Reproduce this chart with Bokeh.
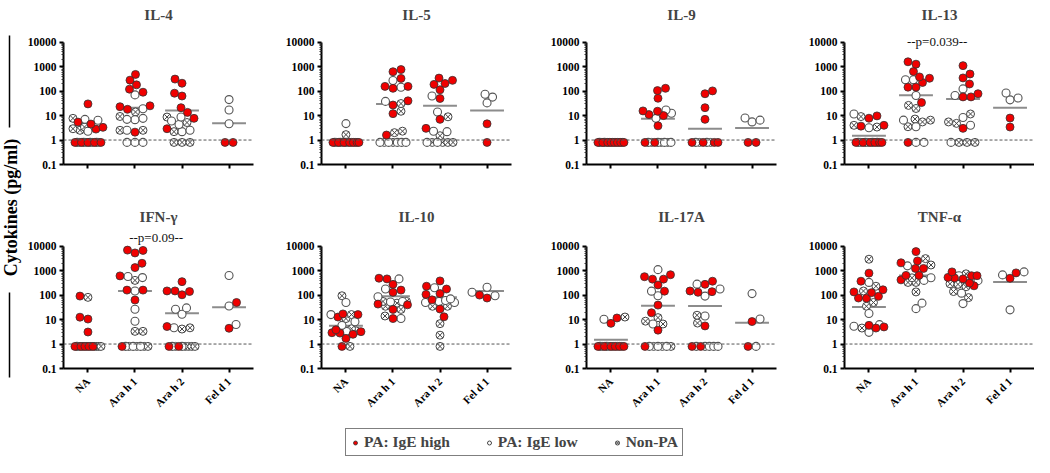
import math
import numpy as np
from bokeh.plotting import figure
from bokeh.layouts import row, column
from bokeh.models import FixedTicker, Span, Legend, LegendItem, Range1d
from bokeh.core.properties import value
from bokeh.embed import file_html
from bokeh.resources import INLINE

# ---------------- data (pg/ml); ND = below detection, plotted at 0.8 ----------------
ND = 0.8
GROUPS = ["NA", "Ara h 1", "Ara h 2", "Fel d 1"]
Y_TICKS = [0.1, 1, 10, 100, 1000, 10000]
Y_TICK_LABELS = ["0.1", "1", "10", "100", "1000", "10000"]
SERIES_NAMES = ["PA: IgE high", "PA: IgE low", "Non-PA"]

IL4_HIGH = [[30, 5.4, 4.5, 3.3, 2.8] + [ND] * 5, [480, 280, 180, 120, 90, 25, 23, 18, 2.1],
            [310, 210, 82, 63, 21, 13.5, 7.7, 2.9], [ND, ND]]
IL4_LOW = [[7, 6.4, 2.3] + [ND] * 4, [70, 19, 7.7, 7, 6.8, 2.5] + [ND] * 3, [8.7, 6, 4.3, 2.5, 2.2], [45, 17, 4.6]]
IL4_NONPA = [[7.7, 3.4, 2.9, 2.5] + [ND] * 4, [14, 9.2, 2.5, 2.5], [8.7, 5.2, 2.2] + [ND] * 3, []]
IL4_MED = [2.7, 21, 16, 4.8]

IL5_HIGH = [[ND] * 7, [760, 620, 330, 156, 156, 130, 40, 27, 12, 1.6], [340, 275, 205, 188, 113, 50, 7, 3.0], [4.6, ND]]
IL5_LOW = [[4.7] + [ND] * 3, [270, 143, 38] + [ND] * 5, [63, 14, 2.3, 2.2] + [ND] * 2, [74, 57, 33]]
IL5_NONPA = [[1.66] + [ND] * 5, [31, 15, 2.3, 2.0] + [ND] * 2, [8.9, 1.5] + [ND] * 4, []]
IL5_MED = [ND, 30, 25, 16]

IL9_HIGH = [[ND] * 8, [130, 105, 51, 15.5, 15, 11, 10, 3.8] + [ND] * 2, [102, 78, 21, 7] + [ND] * 4, [ND, ND]]
IL9_LOW = [[ND] * 2, [17, 12.5, 7.7] + [ND] * 4, [ND] * 2, [8, 6.5, 5.5]]
IL9_NONPA = [[ND] * 7, [ND] * 3, [ND] * 2, []]
IL9_MED = [ND, 7.5, 2.9, 3.1]

IL13_HIGH = [[9.7, 7.8, 4.0, 3.7] + [ND] * 6, [1580, 1260, 630, 380, 335, 225, 145, 145, 34, ND],
             [1100, 500, 345, 195, 78, 58, 58, 3.0], [7.9, 3.4]]
IL13_LOW = [[11.6, 3.2] + [ND] * 4, [290, 290, 66, 6.5, 3.5, ND, ND], [123, 66, 8.3, 4.0, ND], [84, 52, 44]]
IL13_NONPA = [[9.1, 4.0, 3.4] + [ND] * 2, [26, 19.5, 7.2, 6.5, 5.5, 3.5], [11.6, 5.5, 4.8] + [ND] * 3, []]
IL13_MED = [1.5, 67, 48, 21]

IFNG_HIGH = [[91, 12.5, 10.5, 3.1] + [ND] * 5, [6900, 6700, 5300, 2000, 1330, 610, 160, 160, 63, ND],
             [355, 148, 148, 140, 103, 5.2, ND, ND], [50, 4.4]]
IFNG_LOW = [[ND], [575, 520, 148, 26.5, 8.5] + [ND] * 3, [30, 26.5, 16.5, 4.6, ND, ND], [630, 36, 6.3]]
IFNG_NONPA = [[81] + [ND] * 8, [400, 3.3, 3.3] + [ND] * 4, [4.6, 4.1] + [ND] * 5, []]
IFNG_MED = [ND, 148, 18, 32]

IL10_HIGH = [[17, 16, 12.7, 3.8, 3.2, 2.9, 2.8, 2.5, 1.7, ND], [490, 460, 275, 160, 130, 43, 40, 26, 11],
             [380, 230, 177, 115, 107, 64, 27, 13], [100, 76]]
IL10_LOW = [[50, 16, 8.1, 5.8, 3.3], [460, 177, 86, 55, 52, 11], [200, 70, 60, 55, 50, 50], [210, 130, 94]]
IL10_NONPA = [[94, 16, 11, 4.2, 3.4, ND], [55, 55, 47, 35, 26, 14], [35, 35, 6.8, 2.3, ND], []]
IL10_MED = [5.6, 89, 81, 147]

IL17_HIGH = [[11.6, 7] + [ND] * 6, [680, 565, 450, 450, 260, 145, 39, 19, 3.7, ND],
             [370, 275, 147, 138, 130, 5.5, ND, ND], [8.3, ND]]
IL17_LOW = [[10.3, ND, ND], [1100, 145, 94, 6.6] + [ND] * 3, [280, 177, 91, 14] + [ND] * 5, [115, 10.5, ND]]
IL17_NONPA = [[12.7] + [ND] * 5, [12, 8.6, 6.6] + [ND] * 3, [15, 7.2], []]
IL17_MED = [1.5, 37, 36, 7.4]

TNF_HIGH = [[790, 370, 165, 135, 126, 89, 76, 74, 5.8, 5, 4.5], [6000, 2500, 2100, 1230, 1230, 640, 640, 420],
            [890, 620, 620, 530, 500, 460, 310, 240], [810, 490]]
TNF_LOW = [[330, 17.6, 6.2, 5.3, 3.0], [1570, 510, 400, 47, 28], [620, 390, 120, 45], [890, 670, 25]]
TNF_NONPA = [[2930, 230, 147, 50, 35, 4.5], [3100, 1700, 510, 330, 330, 135], [740, 290, 275, 220, 140, 79], []]
TNF_MED = [33, 640, 350, 340]

# p-value annotations: (text, x between Ara h 1 and Ara h 2, level in pg/ml)
IL13_P = ("--p=0.039--", 1.45, 11000)
IFNG_P = ("--p=0.09--", 1.45, 22500)

TOP_ROW = [("IL-4", IL4_HIGH, IL4_LOW, IL4_NONPA, IL4_MED, None),
           ("IL-5", IL5_HIGH, IL5_LOW, IL5_NONPA, IL5_MED, None),
           ("IL-9", IL9_HIGH, IL9_LOW, IL9_NONPA, IL9_MED, None),
           ("IL-13", IL13_HIGH, IL13_LOW, IL13_NONPA, IL13_MED, IL13_P)]
BOTTOM_ROW = [("IFN-γ", IFNG_HIGH, IFNG_LOW, IFNG_NONPA, IFNG_MED, IFNG_P),
              ("IL-10", IL10_HIGH, IL10_LOW, IL10_NONPA, IL10_MED, None),
              ("IL-17A", IL17_HIGH, IL17_LOW, IL17_NONPA, IL17_MED, None),
              ("TNF-α", TNF_HIGH, TNF_LOW, TNF_NONPA, TNF_MED, None)]

# ---------------- style / layout ----------------
SERIF = "Liberation Serif"
RED = "#f00000"
FRAME_W = 190
X_START, X_END = -0.52, 3.52
PX_CAT = FRAME_W / (X_END - X_START)
PX_DEC = 127.5 / 5.0
EXT = 0.6            # head room (decades) above 10000 for annotations
Y_TOP = 10 ** (4 + EXT)
DIAM = 8.0
MAXW = 15.0
FLOOR_HALF = 13.0
MED_HALF = 0.36

# figure geometry: (width, min_border_left, min_border_right)
COLS = [(239, 39, 10), (258, 58, 10), (265, 65, 10), (248, 58, 0)]
TOP_H, TOP_T, TOP_B = 200, 22, 36
BOT_H, BOT_T, BOT_B = 216, 29, 44
LABEL_W = 24
LEG_H = 41
TOTAL_W = LABEL_W + sum(c[0] for c in COLS)


def swarm(high, low, nonpa):
    """Deterministic beeswarm: returns values, series index and x offsets (category units)."""
    lists = [list(high), list(low), list(nonpa)]
    counts = [sum(1 for v in l if v <= ND) for l in lists]
    floor_seq = []
    while any(counts):
        for t in range(3):
            if counts[t] > 0:
                floor_seq.append(t)
                counts[t] -= 1
    others = sorted([(v, t) for t in range(3) for v in lists[t] if v > ND], key=lambda vt: vt[0])
    vals = np.array([ND] * len(floor_seq) + [v for v, _ in others], dtype=float)
    kinds = np.array(floor_seq + [t for _, t in others], dtype=int)
    ys = np.log10(vals) * PX_DEC
    xs = np.zeros(len(vals))
    nf = len(floor_seq)
    if nf > 1:
        step = min(DIAM, 2 * FLOOR_HALF / (nf - 1))
        xs[:nf] = (np.arange(nf) - (nf - 1) / 2.0) * step
    cands = np.linspace(-MAXW, MAXW, 61)
    for i in range(nf, len(vals)):
        if i > 0:
            dist = np.sqrt((cands[:, None] - xs[None, :i]) ** 2 + (ys[i] - ys[None, :i]) ** 2).min(axis=1)
        else:
            dist = np.full(cands.shape, np.inf)
        ok = dist >= DIAM
        if ok.any():
            bias = 1e-6 * ((cands < 0) if i % 2 else (cands > 0))
            j = int(np.argmin(np.where(ok, np.abs(cands) + bias, np.inf)))
        else:
            j = int(np.argmax(dist))
        xs[i] = cands[j]
    return vals, kinds, xs / PX_CAT


def make_panel(spec, col, height, top, bottom, title_standoff, show_x_labels):
    name, high, low, nonpa, med, pinfo = spec
    width, left, right = col
    p = figure(width=width, height=height, x_range=Range1d(X_START, X_END), y_range=Range1d(0.1, Y_TOP),
               y_axis_type="log", toolbar_location=None, output_backend="svg",
               min_border_left=left, min_border_right=right, min_border_top=top, min_border_bottom=bottom)
    p.title.text = name
    p.title.align = "center"
    p.title.text_font = SERIF
    p.title.text_font_style = "bold"
    p.title.text_font_size = "15px"
    p.title.standoff = title_standoff
    p.outline_line_color = None
    p.grid.visible = False
    p.background_fill_color = "white"
    p.border_fill_color = "white"

    # reference line at 1 pg/ml
    p.add_layout(Span(location=1, dimension="width", line_color="#555555", line_dash="3 2", line_width=1))

    xs_by = {0: [], 1: [], 2: []}
    ys_by = {0: [], 1: [], 2: []}
    for g in range(len(GROUPS)):
        vals, kinds, offs = swarm(high[g], low[g], nonpa[g])
        for v, k, o in zip(vals, kinds, offs):
            xs_by[k].append(g + o)
            ys_by[k].append(v)

    # median lines
    p.segment(x0=[g - MED_HALF for g in range(len(GROUPS))], x1=[g + MED_HALF for g in range(len(GROUPS))],
              y0=med, y1=med, line_color="#8c8c8c", line_width=2)

    p.scatter(xs_by[2], ys_by[2], marker="circle_x", size=DIAM, fill_color="white", line_color="#444444",
              line_width=1)
    p.scatter(xs_by[1], ys_by[1], marker="circle", size=DIAM, fill_color="white", line_color="#555555",
              line_width=1.1)
    p.scatter(xs_by[0], ys_by[0], marker="circle", size=DIAM, fill_color=RED, line_color="#333333",
              line_width=0.8)

    if pinfo:
        ptext, px, py = pinfo
        p.text(x=[px], y=[py], text=[ptext], text_align="center", text_baseline="middle",
               text_font=value(SERIF), text_font_size="13px", text_color="#111111")

    # axes
    p.yaxis.ticker = FixedTicker(ticks=Y_TICKS,
                                 minor_ticks=[m * 10.0 ** k for k in range(-1, 4) for m in range(2, 10)])
    p.yaxis.major_label_overrides = {t: l for t, l in zip(Y_TICKS, Y_TICK_LABELS)}
    p.yaxis.bounds = (0.1, 10000)
    for ax in (p.xaxis[0], p.yaxis[0]):
        ax.axis_line_width = 2
        ax.axis_line_color = "black"
        ax.major_tick_line_width = 2
        ax.major_tick_line_color = "black"
        ax.major_tick_in = 0
        ax.major_tick_out = 4
        ax.major_label_text_font = SERIF
        ax.major_label_text_font_style = "bold"
        ax.major_label_text_color = "black"
        ax.major_label_standoff = 3
    p.yaxis.major_label_text_font_size = "11.5px"
    p.yaxis.minor_tick_in = 0
    p.yaxis.minor_tick_out = 2
    p.yaxis.minor_tick_line_color = "#333333"
    p.yaxis.minor_tick_line_width = 1
    if show_x_labels:
        p.xaxis.ticker = FixedTicker(ticks=list(range(len(GROUPS))))
        p.xaxis.major_label_overrides = {i: g for i, g in enumerate(GROUPS)}
        p.xaxis.major_label_text_font_size = "11px"
        p.xaxis.major_label_orientation = math.pi / 4
        p.xaxis.major_label_standoff = 7
        p.xaxis.minor_tick_line_color = None
    else:
        # unlabeled category ticks (top row shows tick marks only)
        p.xaxis.ticker = FixedTicker(ticks=[], minor_ticks=list(range(len(GROUPS))))
        p.xaxis.minor_tick_in = 0
        p.xaxis.minor_tick_out = 4
        p.xaxis.minor_tick_line_width = 2
        p.xaxis.minor_tick_line_color = "black"
    return p


top_figs = [make_panel(s, c, TOP_H, TOP_T, TOP_B, 9, False) for s, c in zip(TOP_ROW, COLS)]
bot_figs = [make_panel(s, c, BOT_H, BOT_T, BOT_B, 13, True) for s, c in zip(BOTTOM_ROW, COLS)]

# shared y-axis title with its rules
lab_h = TOP_H + BOT_H
lab = figure(width=LABEL_W, height=lab_h, x_range=Range1d(0, LABEL_W), y_range=Range1d(0, lab_h),
             toolbar_location=None, output_backend="svg", min_border=0)
lab.axis.visible = False
lab.grid.visible = False
lab.outline_line_color = None
lab.text(x=[10], y=[lab_h - 207], text=["Cytokines (pg/ml)"], angle=math.pi / 2, text_align="center",
         text_baseline="middle", text_font=value(SERIF), text_font_style="bold", text_font_size="18px",
         text_color="black")
lab.segment(x0=[9, 9], x1=[9, 9], y0=[lab_h - 35, lab_h - 292], y1=[lab_h - 127, lab_h - 377],
            line_color="black", line_width=1.5)

# legend strip
leg = figure(width=TOTAL_W, height=LEG_H, x_range=Range1d(0, 1), y_range=Range1d(0, 1),
             toolbar_location=None, output_backend="svg", min_border=0)
leg.axis.visible = False
leg.grid.visible = False
leg.outline_line_color = None
r_hi = leg.scatter(x=[5], y=[5], marker="circle", size=6, fill_color=RED, line_color="#333333", line_width=0.8)
r_lo = leg.scatter(x=[5], y=[5], marker="circle", size=6, fill_color="white", line_color="#444444", line_width=1)
r_np = leg.scatter(x=[5], y=[5], marker="circle_x", size=6, fill_color="white", line_color="#444444",
                   line_width=1)
legend = Legend(items=[LegendItem(label=SERIES_NAMES[0], renderers=[r_hi]),
                       LegendItem(label=SERIES_NAMES[1], renderers=[r_lo]),
                       LegendItem(label=SERIES_NAMES[2], renderers=[r_np])],
                orientation="horizontal", location=(345, 1), margin=0, padding=4, spacing=34,
                glyph_width=10, glyph_height=13, label_standoff=4, label_height=16,
                label_text_font=SERIF, label_text_font_style="bold", label_text_font_size="15.5px",
                border_line_color="black", border_line_width=1.5, background_fill_color="white")
leg.add_layout(legend, "center")

layout = column(row(lab, column(row(*top_figs), row(*bot_figs))), leg)

with open("out.html", "w") as f:
    f.write(file_html(layout, INLINE))
